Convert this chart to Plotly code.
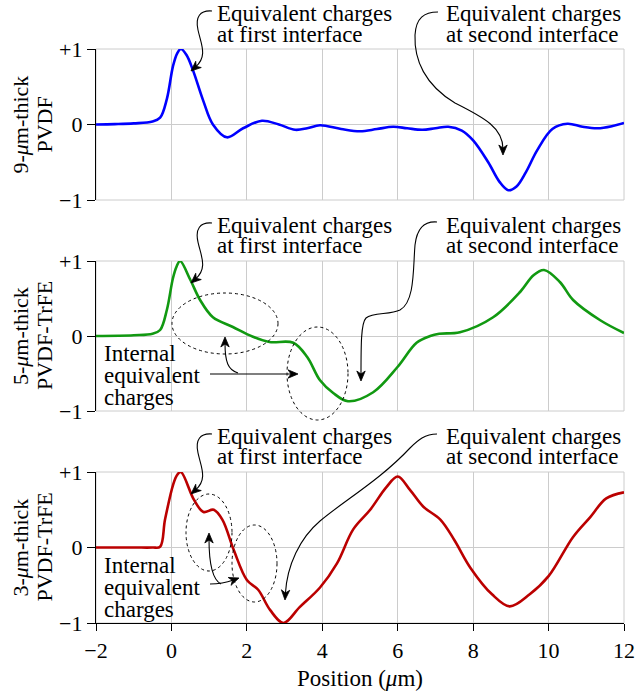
import math
import plotly.graph_objects as go

# ---------------- data ----------------
x_pvdf9 = [-2, -1.5, -1, -0.5, -0.3, -0.12, 0.04, 0.15, 0.25, 0.4, 0.57, 0.84, 1.1, 1.47, 1.9, 2.4, 2.85,
           3.28, 3.6, 3.94, 4.5, 5.0, 5.45, 5.88, 6.25, 6.65, 7.0, 7.34, 7.7, 8.0, 8.4, 8.7, 8.93,
           9.15, 9.4, 9.7, 10.1, 10.5, 10.9, 11.3, 11.7, 12]
y_pvdf9 = [0.0, 0.005, 0.015, 0.04, 0.09, 0.34, 0.77, 0.94, 1.0, 0.92, 0.72, 0.32, 0.0, -0.17, -0.05, 0.05, 0.0,
           -0.07, -0.05, -0.01, -0.06, -0.09, -0.06, -0.03, -0.05, -0.07, -0.05, -0.03, -0.08, -0.21, -0.5, -0.76, -0.87,
           -0.82, -0.63, -0.34, -0.06, 0.01, -0.03, -0.05, -0.02, 0.02]

x_trfe5 = [-2, -1, -0.5, -0.3, -0.12, 0.04, 0.14, 0.23, 0.5, 0.76, 1.1, 1.63, 2.16, 2.6, 3.23, 3.6, 3.94,
           4.29, 4.68, 5.35, 6.0, 6.5, 6.86, 7.1, 7.65, 8.53, 9.25, 9.6, 9.88, 10.3, 10.65, 11.37, 12]
y_trfe5 = [0.0, 0.01, 0.03, 0.08, 0.35, 0.77, 0.93, 1.0, 0.75, 0.48, 0.25, 0.12, -0.01, -0.08, -0.09, -0.28, -0.59,
           -0.76, -0.87, -0.75, -0.41, -0.09, 0.0, 0.03, 0.05, 0.25, 0.59, 0.81, 0.88, 0.72, 0.48, 0.21, 0.04]

x_trfe3 = [-2, -1, -0.5, -0.3, -0.17, 0.05, 0.15, 0.25, 0.6, 0.85, 1.12, 1.35, 1.65, 2.0, 2.3, 2.62, 2.97,
           3.4, 3.94, 4.39, 4.82, 5.27, 5.7, 6.0, 6.33, 6.68, 7.13, 7.5, 7.93, 8.5, 8.97, 9.5,
           10.0, 10.65, 11.1, 11.53, 12]
y_trfe3 = [0.0, 0.0, 0.0, 0.01, 0.37, 0.84, 0.96, 1.0, 0.63, 0.47, 0.5, 0.37, -0.03, -0.43, -0.56, -0.83, -1.0,
           -0.79, -0.53, -0.21, 0.24, 0.5, 0.8, 0.94, 0.76, 0.54, 0.37, 0.1, -0.27, -0.62, -0.78, -0.62,
           -0.38, 0.14, 0.4, 0.65, 0.73]

panel_labels = [["9-<i>μ</i>m-thick", "PVDF"],
                ["5-<i>μ</i>m-thick", "PVDF-TrFE"],
                ["3-<i>μ</i>m-thick", "PVDF-TrFE"]]
x_ticks = [-2, 0, 2, 4, 6, 8, 10, 12]
y_ticks = [-1, 0, 1]
y_ticktext = ["−1", "0", "+1"]
first_text = ["Equivalent charges", "at first interface"]
second_text = ["Equivalent charges", "at second interface"]
internal_text = ["Internal", "equivalent", "charges"]

# ---------------- layout geometry ----------------
FIG_W, FIG_H = 637, 691
ML, MR, MT, MB = 96, 13, 49, 68
PW = FIG_W - ML - MR
PH = FIG_H - MT - MB
FONT = "Liberation Serif"
FS = 22
FA = 23
GRID = "#cccccc"


def px(x):
    return (x - ML) / PW


def py(y):
    return (FIG_H - MB - y) / PH


panel_top = [49, 261, 472]
panel_bot = [200, 411, 623]
panel_zero = [124.5, 336, 548]

fig = go.Figure()
colors = ["#0000ff", "#119911", "#bb0000"]
series = [(x_pvdf9, y_pvdf9), (x_trfe5, y_trfe5), (x_trfe3, y_trfe3)]
for i, (xs, ys) in enumerate(series):
    fig.add_trace(go.Scatter(x=xs, y=ys, mode="lines",
                             line=dict(color=colors[i], width=2.6, shape="spline", smoothing=1.0),
                             xaxis="x" if i == 0 else f"x{i+1}",
                             yaxis="y" if i == 0 else f"y{i+1}",
                             showlegend=False, hoverinfo="skip"))

layout = dict(width=FIG_W, height=FIG_H, margin=dict(l=ML, r=MR, t=MT, b=MB, autoexpand=False),
              paper_bgcolor="white", plot_bgcolor="white",
              font=dict(family=FONT, size=FS, color="black"), showlegend=False)

for i in range(3):
    sx = "" if i == 0 else str(i + 1)
    dom = [py(panel_bot[i]), py(panel_top[i])]
    xa = dict(domain=[0, 1], anchor="y" + sx, range=[-2, 12], tickvals=x_ticks, automargin=False,
              showgrid=True, gridcolor=GRID, gridwidth=1, zeroline=False)
    if i < 2:
        xa.update(showticklabels=False, ticks="", showline=False, matches="x3")
    else:
        xa.update(showticklabels=True, ticks="outside", ticklen=7, tickcolor="black",
                  showline=True, linecolor="black", linewidth=1.2,
                  tickfont=dict(size=FS),
                  title=dict(text="Position (<i>μ</i>m)", font=dict(size=FA), standoff=10))
    ya = dict(domain=dom, anchor="x" + sx, range=[-1, 1], tickvals=y_ticks, ticktext=y_ticktext,
              automargin=False,
              showgrid=True, gridcolor=GRID, gridwidth=1, zeroline=False,
              showline=True, linecolor="black", linewidth=1.2,
              ticks="outside", ticklen=8, tickcolor="black", tickfont=dict(size=FS))
    layout["xaxis" + sx] = xa
    layout["yaxis" + sx] = ya

fig.update_layout(**layout)

shapes = []
annotations = []

# plot boxes (grey frame)
for i in range(3):
    sx = "" if i == 0 else str(i + 1)
    shapes.append(dict(type="rect", xref=f"x{sx} domain", yref=f"y{sx} domain",
                       x0=0, x1=1, y0=0, y1=1, line=dict(color=GRID, width=1), layer="below"))


def P(x, y):
    return f"{px(x):.5f},{py(y):.5f}"


def arrow(start, segs, head_len=10, head_w=4.2):
    """segs: list of (c1, c2, end) cubic bezier pieces in pixels; last end = tip."""
    tip = segs[-1][2]
    c2 = segs[-1][1]
    dx, dy = tip[0] - c2[0], tip[1] - c2[1]
    d = math.hypot(dx, dy)
    ux, uy = dx / d, dy / d
    nx, ny = -uy, ux
    end_line = (tip[0] - ux * head_len * 0.6, tip[1] - uy * head_len * 0.6)
    path = "M " + P(*start)
    for k, (a, b, e) in enumerate(segs):
        if k == len(segs) - 1:
            e = end_line
        path += " C " + P(*a) + " " + P(*b) + " " + P(*e)
    shapes.append(dict(type="path", xref="paper", yref="paper", path=path,
                       line=dict(color="black", width=1.1)))
    bx, by = tip[0] - ux * head_len, tip[1] - uy * head_len
    mx, my = tip[0] - ux * head_len * 0.7, tip[1] - uy * head_len * 0.7
    head = ("M " + P(*tip) + " L " + P(bx + nx * head_w, by + ny * head_w) +
            " L " + P(mx, my) + " L " + P(bx - nx * head_w, by - ny * head_w) + " Z")
    shapes.append(dict(type="path", xref="paper", yref="paper", path=head,
                       fillcolor="black", line=dict(color="black", width=0.8)))


def ellipse(x0, x1, y0, y1):
    shapes.append(dict(type="circle", xref="paper", yref="paper",
                       x0=px(x0), x1=px(x1), y0=py(y1), y1=py(y0),
                       line=dict(color="black", width=1, dash="dot")))


def text(x, y, s, anchor="left", angle=0, size=FA):
    annotations.append(dict(x=px(x), y=py(y), xref="paper", yref="paper", text=s,
                            showarrow=False, xanchor=anchor, yanchor="middle", textangle=angle,
                            font=dict(family=FONT, size=size, color="black")))


for i in range(3):
    t = panel_top[i]
    for k, line in enumerate(first_text):
        text(215, t - 36 + 21 * k, line)
    for k, line in enumerate(second_text):
        text(444, t - 36 + 21 * k, line)
    off = t - 49
    arrow((212, 11 + off), [((200, 10 + off), (195, 17 + off), (198, 30 + off)),
                            ((201, 44 + off), (208, 56 + off), (191, 71 + off))])
    cy = (panel_top[i] + panel_bot[i]) / 2
    text(20, cy, panel_labels[i][0], anchor="center", angle=-90, size=FS)
    text(44, cy, panel_labels[i][1], anchor="center", angle=-90, size=FS)

arrow((438, 12), [((424, 12), (416, 18), (415, 35)),
                  ((414, 60), (425, 85), (455, 103)),
                  ((485, 118), (503, 128), (503, 155))])
arrow((437, 222), [((424, 221), (417, 228), (415, 245)),
                   ((413, 268), (415, 302), (400, 310)),
                   ((390, 315), (373, 312), (366, 318)),
                   ((361, 323), (361, 345), (361, 381))])
arrow((437, 434), [((425, 434), (418, 440), (410, 448)),
                   ((380, 480), (345, 500), (320, 521)),
                   ((300, 538), (287, 565), (285, 600))])

for k, line in enumerate(internal_text):
    text(102, panel_zero[1] + 17 + 22 * k, line)
arrow((210, 374), [((240, 374), (270, 374), (298, 374))])
arrow((238, 373), [((228, 370), (225, 362), (225, 337))])
ellipse(172, 278, 293, 354)
ellipse(287, 348, 327, 420)

for k, line in enumerate(internal_text):
    text(102, panel_zero[2] + 17 + 22 * k, line)
arrow((210, 584), [((220, 584), (228, 582), (239, 578))])
arrow((221, 584), [((213, 580), (209, 565), (209, 533))])
ellipse(186, 232, 494, 571)
ellipse(232, 277, 525, 602)

fig.update_layout(shapes=shapes, annotations=annotations)
fig.write_html("out.html")
